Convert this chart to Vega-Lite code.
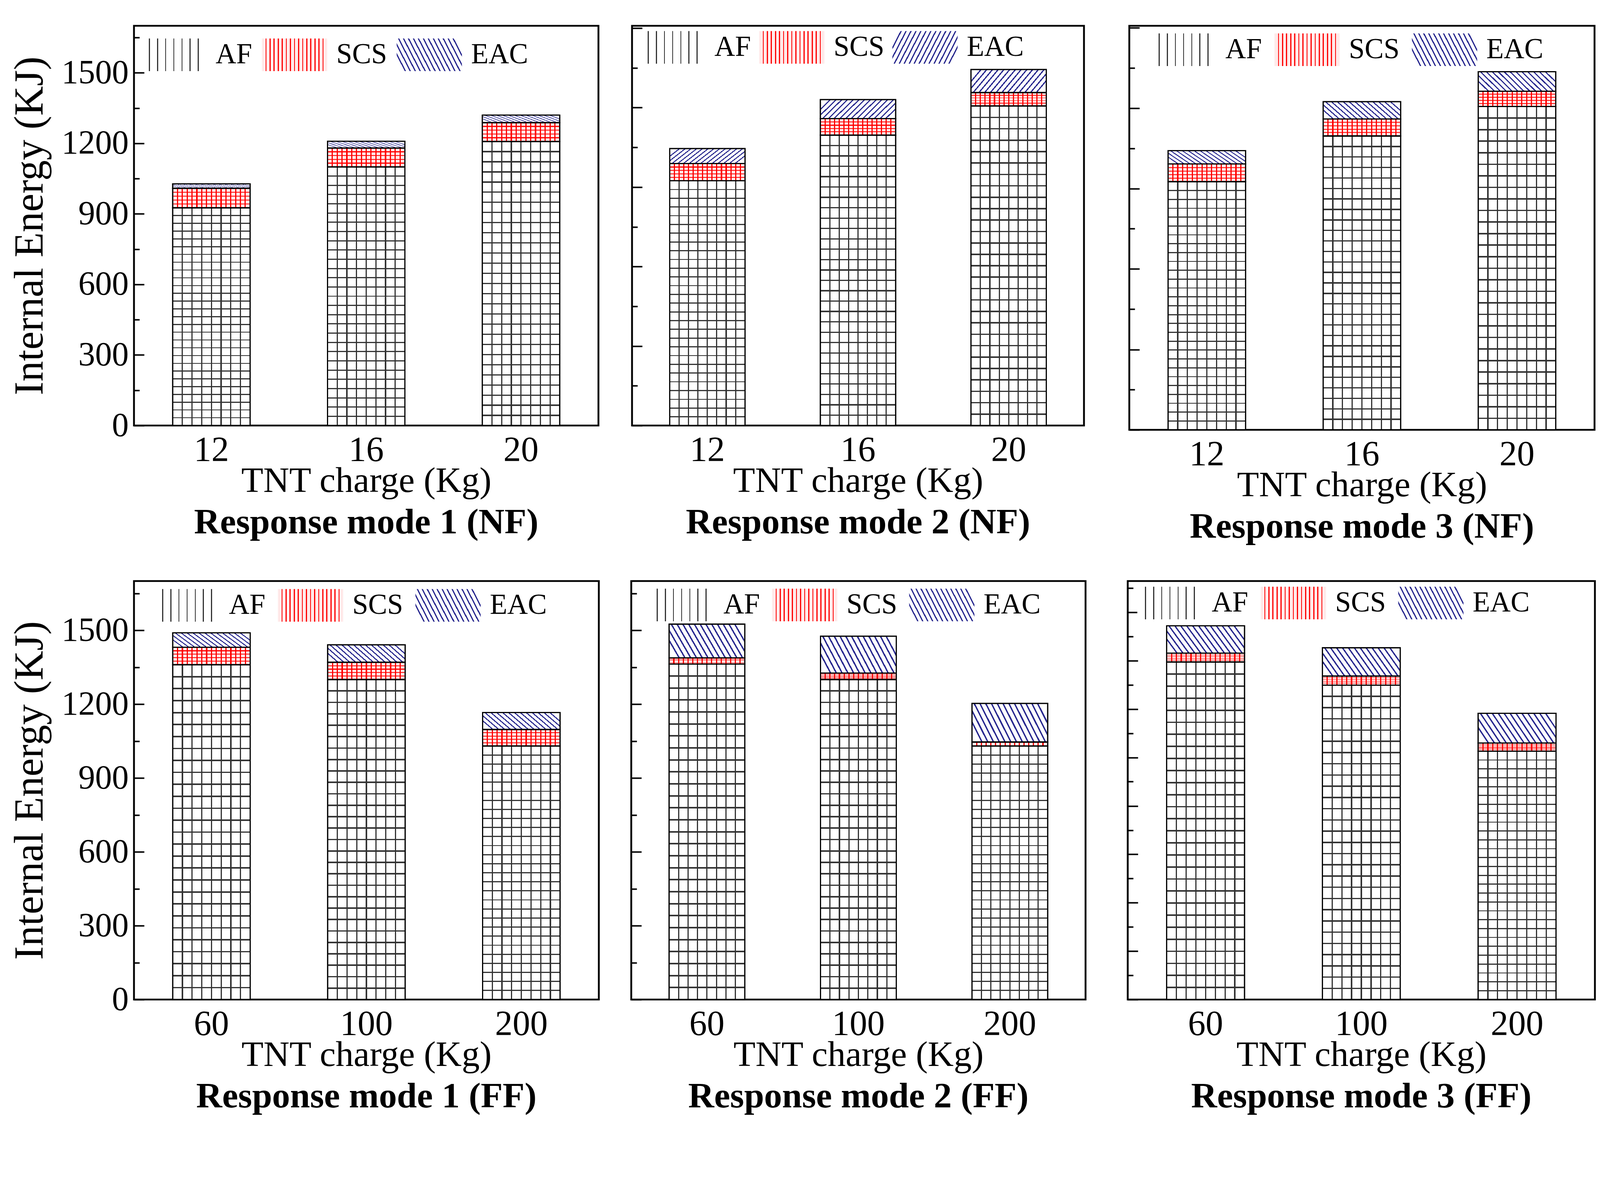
{
  "$schema": "https://vega.github.io/schema/vega-lite/v6.json",
  "background": "white",
  "padding": {"left": 21, "top": 33, "right": 0, "bottom": 0},
  "params": [
    {"name": "gAF", "value": {"gradient": "linear", "x1": 0, "y1": 0, "x2": 1, "y2": 0, "stops": [
      {"offset": 0, "color": "#fff"}, {"offset": 0.117, "color": "#fff"}, {"offset": 0.117, "color": "#333"}, {"offset": 0.133, "color": "#333"}, {"offset": 0.133, "color": "#fff"},
      {"offset": 0.242, "color": "#fff"}, {"offset": 0.242, "color": "#333"}, {"offset": 0.258, "color": "#333"}, {"offset": 0.258, "color": "#fff"},
      {"offset": 0.367, "color": "#fff"}, {"offset": 0.367, "color": "#333"}, {"offset": 0.383, "color": "#333"}, {"offset": 0.383, "color": "#fff"},
      {"offset": 0.492, "color": "#fff"}, {"offset": 0.492, "color": "#333"}, {"offset": 0.508, "color": "#333"}, {"offset": 0.508, "color": "#fff"},
      {"offset": 0.617, "color": "#fff"}, {"offset": 0.617, "color": "#333"}, {"offset": 0.633, "color": "#333"}, {"offset": 0.633, "color": "#fff"},
      {"offset": 0.742, "color": "#fff"}, {"offset": 0.742, "color": "#333"}, {"offset": 0.758, "color": "#333"}, {"offset": 0.758, "color": "#fff"},
      {"offset": 0.867, "color": "#fff"}, {"offset": 0.867, "color": "#333"}, {"offset": 0.883, "color": "#333"}, {"offset": 0.883, "color": "#fff"},
      {"offset": 1, "color": "#fff"}]}},
    {"name": "gSCS", "value": {"gradient": "linear", "x1": 0, "y1": 0, "x2": 1, "y2": 0, "stops": [
      {"offset": 0, "color": "#ffeaea"},
      {"offset": 0.0545, "color": "#ffeaea"}, {"offset": 0.0545, "color": "#f00"}, {"offset": 0.0705, "color": "#f00"}, {"offset": 0.0705, "color": "#ffeaea"},
      {"offset": 0.117, "color": "#ffeaea"}, {"offset": 0.117, "color": "#f00"}, {"offset": 0.133, "color": "#f00"}, {"offset": 0.133, "color": "#ffeaea"},
      {"offset": 0.1795, "color": "#ffeaea"}, {"offset": 0.1795, "color": "#f00"}, {"offset": 0.1955, "color": "#f00"}, {"offset": 0.1955, "color": "#ffeaea"},
      {"offset": 0.242, "color": "#ffeaea"}, {"offset": 0.242, "color": "#f00"}, {"offset": 0.258, "color": "#f00"}, {"offset": 0.258, "color": "#ffeaea"},
      {"offset": 0.3045, "color": "#ffeaea"}, {"offset": 0.3045, "color": "#f00"}, {"offset": 0.3205, "color": "#f00"}, {"offset": 0.3205, "color": "#ffeaea"},
      {"offset": 0.367, "color": "#ffeaea"}, {"offset": 0.367, "color": "#f00"}, {"offset": 0.383, "color": "#f00"}, {"offset": 0.383, "color": "#ffeaea"},
      {"offset": 0.4295, "color": "#ffeaea"}, {"offset": 0.4295, "color": "#f00"}, {"offset": 0.4455, "color": "#f00"}, {"offset": 0.4455, "color": "#ffeaea"},
      {"offset": 0.492, "color": "#ffeaea"}, {"offset": 0.492, "color": "#f00"}, {"offset": 0.508, "color": "#f00"}, {"offset": 0.508, "color": "#ffeaea"},
      {"offset": 0.5545, "color": "#ffeaea"}, {"offset": 0.5545, "color": "#f00"}, {"offset": 0.5705, "color": "#f00"}, {"offset": 0.5705, "color": "#ffeaea"},
      {"offset": 0.617, "color": "#ffeaea"}, {"offset": 0.617, "color": "#f00"}, {"offset": 0.633, "color": "#f00"}, {"offset": 0.633, "color": "#ffeaea"},
      {"offset": 0.6795, "color": "#ffeaea"}, {"offset": 0.6795, "color": "#f00"}, {"offset": 0.6955, "color": "#f00"}, {"offset": 0.6955, "color": "#ffeaea"},
      {"offset": 0.742, "color": "#ffeaea"}, {"offset": 0.742, "color": "#f00"}, {"offset": 0.758, "color": "#f00"}, {"offset": 0.758, "color": "#ffeaea"},
      {"offset": 0.8045, "color": "#ffeaea"}, {"offset": 0.8045, "color": "#f00"}, {"offset": 0.8205, "color": "#f00"}, {"offset": 0.8205, "color": "#ffeaea"},
      {"offset": 0.867, "color": "#ffeaea"}, {"offset": 0.867, "color": "#f00"}, {"offset": 0.883, "color": "#f00"}, {"offset": 0.883, "color": "#ffeaea"},
      {"offset": 0.9295, "color": "#ffeaea"}, {"offset": 0.9295, "color": "#f00"}, {"offset": 0.9455, "color": "#f00"}, {"offset": 0.9455, "color": "#ffeaea"},
      {"offset": 1, "color": "#ffeaea"}]}},
    {"name": "gEAC", "value": {"gradient": "linear", "x1": 0, "y1": 0.6285, "x2": 1, "y2": 0.3715, "stops": [
      {"offset": 0, "color": "#fff"},
      {"offset": 0.0257, "color": "#fff"}, {"offset": 0.0257, "color": "#2a2a90"}, {"offset": 0.0457, "color": "#2a2a90"}, {"offset": 0.0457, "color": "#fff"},
      {"offset": 0.0971, "color": "#fff"}, {"offset": 0.0971, "color": "#2a2a90"}, {"offset": 0.1171, "color": "#2a2a90"}, {"offset": 0.1171, "color": "#fff"},
      {"offset": 0.1686, "color": "#fff"}, {"offset": 0.1686, "color": "#2a2a90"}, {"offset": 0.1886, "color": "#2a2a90"}, {"offset": 0.1886, "color": "#fff"},
      {"offset": 0.24, "color": "#fff"}, {"offset": 0.24, "color": "#2a2a90"}, {"offset": 0.26, "color": "#2a2a90"}, {"offset": 0.26, "color": "#fff"},
      {"offset": 0.3114, "color": "#fff"}, {"offset": 0.3114, "color": "#2a2a90"}, {"offset": 0.3314, "color": "#2a2a90"}, {"offset": 0.3314, "color": "#fff"},
      {"offset": 0.3829, "color": "#fff"}, {"offset": 0.3829, "color": "#2a2a90"}, {"offset": 0.4029, "color": "#2a2a90"}, {"offset": 0.4029, "color": "#fff"},
      {"offset": 0.4543, "color": "#fff"}, {"offset": 0.4543, "color": "#2a2a90"}, {"offset": 0.4743, "color": "#2a2a90"}, {"offset": 0.4743, "color": "#fff"},
      {"offset": 0.5257, "color": "#fff"}, {"offset": 0.5257, "color": "#2a2a90"}, {"offset": 0.5457, "color": "#2a2a90"}, {"offset": 0.5457, "color": "#fff"},
      {"offset": 0.5971, "color": "#fff"}, {"offset": 0.5971, "color": "#2a2a90"}, {"offset": 0.6171, "color": "#2a2a90"}, {"offset": 0.6171, "color": "#fff"},
      {"offset": 0.6686, "color": "#fff"}, {"offset": 0.6686, "color": "#2a2a90"}, {"offset": 0.6886, "color": "#2a2a90"}, {"offset": 0.6886, "color": "#fff"},
      {"offset": 0.74, "color": "#fff"}, {"offset": 0.74, "color": "#2a2a90"}, {"offset": 0.76, "color": "#2a2a90"}, {"offset": 0.76, "color": "#fff"},
      {"offset": 0.8114, "color": "#fff"}, {"offset": 0.8114, "color": "#2a2a90"}, {"offset": 0.8314, "color": "#2a2a90"}, {"offset": 0.8314, "color": "#fff"},
      {"offset": 0.8829, "color": "#fff"}, {"offset": 0.8829, "color": "#2a2a90"}, {"offset": 0.9029, "color": "#2a2a90"}, {"offset": 0.9029, "color": "#fff"},
      {"offset": 0.9543, "color": "#fff"}, {"offset": 0.9543, "color": "#2a2a90"}, {"offset": 0.9743, "color": "#2a2a90"}, {"offset": 0.9743, "color": "#fff"},
      {"offset": 1, "color": "#fff"}]}},
    {"name": "gEAC2", "value": {"gradient": "linear", "x1": 0, "y1": 0.3715, "x2": 1, "y2": 0.6285, "stops": [
      {"offset": 0, "color": "#fff"},
      {"offset": 0.0257, "color": "#fff"}, {"offset": 0.0257, "color": "#2a2a90"}, {"offset": 0.0457, "color": "#2a2a90"}, {"offset": 0.0457, "color": "#fff"},
      {"offset": 0.0971, "color": "#fff"}, {"offset": 0.0971, "color": "#2a2a90"}, {"offset": 0.1171, "color": "#2a2a90"}, {"offset": 0.1171, "color": "#fff"},
      {"offset": 0.1686, "color": "#fff"}, {"offset": 0.1686, "color": "#2a2a90"}, {"offset": 0.1886, "color": "#2a2a90"}, {"offset": 0.1886, "color": "#fff"},
      {"offset": 0.24, "color": "#fff"}, {"offset": 0.24, "color": "#2a2a90"}, {"offset": 0.26, "color": "#2a2a90"}, {"offset": 0.26, "color": "#fff"},
      {"offset": 0.3114, "color": "#fff"}, {"offset": 0.3114, "color": "#2a2a90"}, {"offset": 0.3314, "color": "#2a2a90"}, {"offset": 0.3314, "color": "#fff"},
      {"offset": 0.3829, "color": "#fff"}, {"offset": 0.3829, "color": "#2a2a90"}, {"offset": 0.4029, "color": "#2a2a90"}, {"offset": 0.4029, "color": "#fff"},
      {"offset": 0.4543, "color": "#fff"}, {"offset": 0.4543, "color": "#2a2a90"}, {"offset": 0.4743, "color": "#2a2a90"}, {"offset": 0.4743, "color": "#fff"},
      {"offset": 0.5257, "color": "#fff"}, {"offset": 0.5257, "color": "#2a2a90"}, {"offset": 0.5457, "color": "#2a2a90"}, {"offset": 0.5457, "color": "#fff"},
      {"offset": 0.5971, "color": "#fff"}, {"offset": 0.5971, "color": "#2a2a90"}, {"offset": 0.6171, "color": "#2a2a90"}, {"offset": 0.6171, "color": "#fff"},
      {"offset": 0.6686, "color": "#fff"}, {"offset": 0.6686, "color": "#2a2a90"}, {"offset": 0.6886, "color": "#2a2a90"}, {"offset": 0.6886, "color": "#fff"},
      {"offset": 0.74, "color": "#fff"}, {"offset": 0.74, "color": "#2a2a90"}, {"offset": 0.76, "color": "#2a2a90"}, {"offset": 0.76, "color": "#fff"},
      {"offset": 0.8114, "color": "#fff"}, {"offset": 0.8114, "color": "#2a2a90"}, {"offset": 0.8314, "color": "#2a2a90"}, {"offset": 0.8314, "color": "#fff"},
      {"offset": 0.8829, "color": "#fff"}, {"offset": 0.8829, "color": "#2a2a90"}, {"offset": 0.9029, "color": "#2a2a90"}, {"offset": 0.9029, "color": "#fff"},
      {"offset": 0.9543, "color": "#fff"}, {"offset": 0.9543, "color": "#2a2a90"}, {"offset": 0.9743, "color": "#2a2a90"}, {"offset": 0.9743, "color": "#fff"},
      {"offset": 1, "color": "#fff"}]}},
    {"name": "gAFh", "value": {"gradient": "linear", "x1": 0, "y1": 0, "x2": 0, "y2": 1, "stops": [
      {"offset": 0, "color": "rgba(255,255,255,0)"},
      {"offset": 0.0335, "color": "rgba(255,255,255,0)"}, {"offset": 0.0335, "color": "#333"}, {"offset": 0.0379, "color": "#333"}, {"offset": 0.0379, "color": "rgba(255,255,255,0)"},
      {"offset": 0.0692, "color": "rgba(255,255,255,0)"}, {"offset": 0.0692, "color": "#333"}, {"offset": 0.0736, "color": "#333"}, {"offset": 0.0736, "color": "rgba(255,255,255,0)"},
      {"offset": 0.1049, "color": "rgba(255,255,255,0)"}, {"offset": 0.1049, "color": "#333"}, {"offset": 0.1093, "color": "#333"}, {"offset": 0.1093, "color": "rgba(255,255,255,0)"},
      {"offset": 0.1407, "color": "rgba(255,255,255,0)"}, {"offset": 0.1407, "color": "#333"}, {"offset": 0.1451, "color": "#333"}, {"offset": 0.1451, "color": "rgba(255,255,255,0)"},
      {"offset": 0.1764, "color": "rgba(255,255,255,0)"}, {"offset": 0.1764, "color": "#333"}, {"offset": 0.1808, "color": "#333"}, {"offset": 0.1808, "color": "rgba(255,255,255,0)"},
      {"offset": 0.2121, "color": "rgba(255,255,255,0)"}, {"offset": 0.2121, "color": "#333"}, {"offset": 0.2165, "color": "#333"}, {"offset": 0.2165, "color": "rgba(255,255,255,0)"},
      {"offset": 0.2478, "color": "rgba(255,255,255,0)"}, {"offset": 0.2478, "color": "#333"}, {"offset": 0.2522, "color": "#333"}, {"offset": 0.2522, "color": "rgba(255,255,255,0)"},
      {"offset": 0.2835, "color": "rgba(255,255,255,0)"}, {"offset": 0.2835, "color": "#333"}, {"offset": 0.2879, "color": "#333"}, {"offset": 0.2879, "color": "rgba(255,255,255,0)"},
      {"offset": 0.3192, "color": "rgba(255,255,255,0)"}, {"offset": 0.3192, "color": "#333"}, {"offset": 0.3236, "color": "#333"}, {"offset": 0.3236, "color": "rgba(255,255,255,0)"},
      {"offset": 0.3549, "color": "rgba(255,255,255,0)"}, {"offset": 0.3549, "color": "#333"}, {"offset": 0.3593, "color": "#333"}, {"offset": 0.3593, "color": "rgba(255,255,255,0)"},
      {"offset": 0.3907, "color": "rgba(255,255,255,0)"}, {"offset": 0.3907, "color": "#333"}, {"offset": 0.3951, "color": "#333"}, {"offset": 0.3951, "color": "rgba(255,255,255,0)"},
      {"offset": 0.4264, "color": "rgba(255,255,255,0)"}, {"offset": 0.4264, "color": "#333"}, {"offset": 0.4308, "color": "#333"}, {"offset": 0.4308, "color": "rgba(255,255,255,0)"},
      {"offset": 0.4621, "color": "rgba(255,255,255,0)"}, {"offset": 0.4621, "color": "#333"}, {"offset": 0.4665, "color": "#333"}, {"offset": 0.4665, "color": "rgba(255,255,255,0)"},
      {"offset": 0.4978, "color": "rgba(255,255,255,0)"}, {"offset": 0.4978, "color": "#333"}, {"offset": 0.5022, "color": "#333"}, {"offset": 0.5022, "color": "rgba(255,255,255,0)"},
      {"offset": 0.5335, "color": "rgba(255,255,255,0)"}, {"offset": 0.5335, "color": "#333"}, {"offset": 0.5379, "color": "#333"}, {"offset": 0.5379, "color": "rgba(255,255,255,0)"},
      {"offset": 0.5692, "color": "rgba(255,255,255,0)"}, {"offset": 0.5692, "color": "#333"}, {"offset": 0.5736, "color": "#333"}, {"offset": 0.5736, "color": "rgba(255,255,255,0)"},
      {"offset": 0.6049, "color": "rgba(255,255,255,0)"}, {"offset": 0.6049, "color": "#333"}, {"offset": 0.6093, "color": "#333"}, {"offset": 0.6093, "color": "rgba(255,255,255,0)"},
      {"offset": 0.6407, "color": "rgba(255,255,255,0)"}, {"offset": 0.6407, "color": "#333"}, {"offset": 0.6451, "color": "#333"}, {"offset": 0.6451, "color": "rgba(255,255,255,0)"},
      {"offset": 0.6764, "color": "rgba(255,255,255,0)"}, {"offset": 0.6764, "color": "#333"}, {"offset": 0.6808, "color": "#333"}, {"offset": 0.6808, "color": "rgba(255,255,255,0)"},
      {"offset": 0.7121, "color": "rgba(255,255,255,0)"}, {"offset": 0.7121, "color": "#333"}, {"offset": 0.7165, "color": "#333"}, {"offset": 0.7165, "color": "rgba(255,255,255,0)"},
      {"offset": 0.7478, "color": "rgba(255,255,255,0)"}, {"offset": 0.7478, "color": "#333"}, {"offset": 0.7522, "color": "#333"}, {"offset": 0.7522, "color": "rgba(255,255,255,0)"},
      {"offset": 0.7835, "color": "rgba(255,255,255,0)"}, {"offset": 0.7835, "color": "#333"}, {"offset": 0.7879, "color": "#333"}, {"offset": 0.7879, "color": "rgba(255,255,255,0)"},
      {"offset": 0.8192, "color": "rgba(255,255,255,0)"}, {"offset": 0.8192, "color": "#333"}, {"offset": 0.8236, "color": "#333"}, {"offset": 0.8236, "color": "rgba(255,255,255,0)"},
      {"offset": 0.8549, "color": "rgba(255,255,255,0)"}, {"offset": 0.8549, "color": "#333"}, {"offset": 0.8593, "color": "#333"}, {"offset": 0.8593, "color": "rgba(255,255,255,0)"},
      {"offset": 0.8907, "color": "rgba(255,255,255,0)"}, {"offset": 0.8907, "color": "#333"}, {"offset": 0.8951, "color": "#333"}, {"offset": 0.8951, "color": "rgba(255,255,255,0)"},
      {"offset": 0.9264, "color": "rgba(255,255,255,0)"}, {"offset": 0.9264, "color": "#333"}, {"offset": 0.9308, "color": "#333"}, {"offset": 0.9308, "color": "rgba(255,255,255,0)"},
      {"offset": 0.9621, "color": "rgba(255,255,255,0)"}, {"offset": 0.9621, "color": "#333"}, {"offset": 0.9665, "color": "#333"}, {"offset": 0.9665, "color": "rgba(255,255,255,0)"},
      {"offset": 1, "color": "rgba(255,255,255,0)"}]}},
    {"name": "gSCSh", "value": {"gradient": "linear", "x1": 0, "y1": 0, "x2": 0, "y2": 1, "stops": [
      {"offset": 0, "color": "rgba(255,255,255,0)"},
      {"offset": 0.175, "color": "rgba(255,255,255,0)"}, {"offset": 0.175, "color": "#f00"}, {"offset": 0.225, "color": "#f00"}, {"offset": 0.225, "color": "rgba(255,255,255,0)"},
      {"offset": 0.375, "color": "rgba(255,255,255,0)"}, {"offset": 0.375, "color": "#f00"}, {"offset": 0.425, "color": "#f00"}, {"offset": 0.425, "color": "rgba(255,255,255,0)"},
      {"offset": 0.575, "color": "rgba(255,255,255,0)"}, {"offset": 0.575, "color": "#f00"}, {"offset": 0.625, "color": "#f00"}, {"offset": 0.625, "color": "rgba(255,255,255,0)"},
      {"offset": 0.775, "color": "rgba(255,255,255,0)"}, {"offset": 0.775, "color": "#f00"}, {"offset": 0.825, "color": "#f00"}, {"offset": 0.825, "color": "rgba(255,255,255,0)"},
      {"offset": 1, "color": "rgba(255,255,255,0)"}]}}
  ],
  "data": {"values": [
    {"panel": "NF1", "charge": 12, "comp": "AF", "energy": 926},
    {"panel": "NF1", "charge": 12, "comp": "SCS", "energy": 83},
    {"panel": "NF1", "charge": 12, "comp": "EAC", "energy": 19},
    {"panel": "NF1", "charge": 16, "comp": "AF", "energy": 1100},
    {"panel": "NF1", "charge": 16, "comp": "SCS", "energy": 80},
    {"panel": "NF1", "charge": 16, "comp": "EAC", "energy": 29},
    {"panel": "NF1", "charge": 20, "comp": "AF", "energy": 1208},
    {"panel": "NF1", "charge": 20, "comp": "SCS", "energy": 80},
    {"panel": "NF1", "charge": 20, "comp": "EAC", "energy": 32},
    {"panel": "NF2", "charge": 12, "comp": "AF", "energy": 1041},
    {"panel": "NF2", "charge": 12, "comp": "SCS", "energy": 73},
    {"panel": "NF2", "charge": 12, "comp": "EAC", "energy": 64},
    {"panel": "NF2", "charge": 16, "comp": "AF", "energy": 1235},
    {"panel": "NF2", "charge": 16, "comp": "SCS", "energy": 70},
    {"panel": "NF2", "charge": 16, "comp": "EAC", "energy": 81},
    {"panel": "NF2", "charge": 20, "comp": "AF", "energy": 1359},
    {"panel": "NF2", "charge": 20, "comp": "SCS", "energy": 57},
    {"panel": "NF2", "charge": 20, "comp": "EAC", "energy": 98},
    {"panel": "NF3", "charge": 12, "comp": "AF", "energy": 1054},
    {"panel": "NF3", "charge": 12, "comp": "SCS", "energy": 75},
    {"panel": "NF3", "charge": 12, "comp": "EAC", "energy": 57},
    {"panel": "NF3", "charge": 16, "comp": "AF", "energy": 1248},
    {"panel": "NF3", "charge": 16, "comp": "SCS", "energy": 72},
    {"panel": "NF3", "charge": 16, "comp": "EAC", "energy": 74},
    {"panel": "NF3", "charge": 20, "comp": "AF", "energy": 1373},
    {"panel": "NF3", "charge": 20, "comp": "SCS", "energy": 65},
    {"panel": "NF3", "charge": 20, "comp": "EAC", "energy": 83},
    {"panel": "FF1", "charge": 60, "comp": "AF", "energy": 1360},
    {"panel": "FF1", "charge": 60, "comp": "SCS", "energy": 71},
    {"panel": "FF1", "charge": 60, "comp": "EAC", "energy": 59},
    {"panel": "FF1", "charge": 100, "comp": "AF", "energy": 1300},
    {"panel": "FF1", "charge": 100, "comp": "SCS", "energy": 70},
    {"panel": "FF1", "charge": 100, "comp": "EAC", "energy": 71},
    {"panel": "FF1", "charge": 200, "comp": "AF", "energy": 1030},
    {"panel": "FF1", "charge": 200, "comp": "SCS", "energy": 67},
    {"panel": "FF1", "charge": 200, "comp": "EAC", "energy": 69},
    {"panel": "FF2", "charge": 60, "comp": "AF", "energy": 1363},
    {"panel": "FF2", "charge": 60, "comp": "SCS", "energy": 25},
    {"panel": "FF2", "charge": 60, "comp": "EAC", "energy": 137},
    {"panel": "FF2", "charge": 100, "comp": "AF", "energy": 1300},
    {"panel": "FF2", "charge": 100, "comp": "SCS", "energy": 26},
    {"panel": "FF2", "charge": 100, "comp": "EAC", "energy": 150},
    {"panel": "FF2", "charge": 200, "comp": "AF", "energy": 1030},
    {"panel": "FF2", "charge": 200, "comp": "SCS", "energy": 16},
    {"panel": "FF2", "charge": 200, "comp": "EAC", "energy": 157},
    {"panel": "FF3", "charge": 60, "comp": "AF", "energy": 1371},
    {"panel": "FF3", "charge": 60, "comp": "SCS", "energy": 36},
    {"panel": "FF3", "charge": 60, "comp": "EAC", "energy": 111},
    {"panel": "FF3", "charge": 100, "comp": "AF", "energy": 1277},
    {"panel": "FF3", "charge": 100, "comp": "SCS", "energy": 37},
    {"panel": "FF3", "charge": 100, "comp": "EAC", "energy": 115},
    {"panel": "FF3", "charge": 200, "comp": "AF", "energy": 1009},
    {"panel": "FF3", "charge": 200, "comp": "SCS", "energy": 33},
    {"panel": "FF3", "charge": 200, "comp": "EAC", "energy": 121}
  ]},
  "transform": [
    {"calculate": "indexof(['AF','SCS','EAC'], datum.comp)", "as": "rank"},
    {"stack": "energy", "groupby": ["panel", "charge"], "sort": [{"field": "rank", "order": "ascending"}], "as": ["v0", "v1"]}
  ],
  "spacing": 58,
  "resolve": {"scale": {"x": "independent", "y": "independent", "opacity": "independent"}, "legend": {"opacity": "independent"}},
  "vconcat": [
    {
      "spacing": 108,
      "resolve": {"scale": {"x": "independent", "y": "independent", "opacity": "independent"}, "legend": {"opacity": "independent"}},
      "hconcat": [
        {
          "spacing": 78,
          "resolve": {"scale": {"x": "independent", "y": "independent", "opacity": "independent"}, "legend": {"opacity": "independent"}},
          "hconcat": [
            {
              "width": 1189, "height": 1023,
              "title": "Response mode 1 (NF)",
              "transform": [{"filter": "datum.panel === 'NF1'"}],
              "encoding": {
                "x": {"field": "charge", "type": "ordinal", "scale": {"paddingInner": 0.5, "paddingOuter": 0.25}, "axis": {"title": "TNT charge (Kg)"}},
                "y": {"field": "v0", "type": "quantitative", "scale": {"domain": [0, 1700], "nice": false},
                      "axis": {"title": "Internal Energy (KJ)", "values": [0,150,300,450,600,750,900,1050,1200,1350,1500,1650], "format": "d",
                               "labelExpr": "datum.value % 300 === 0 ? datum.label : ''",
                               "tickSize": {"condition": {"test": "datum.value % 300 === 0", "value": -26}, "value": -14}}},
                "y2": {"field": "v1"}
              },
              "layer": [
                {"mark": {"type": "bar", "fill": {"expr": "(datum.comp || datum.value) === 'AF' ? gAF : (datum.comp || datum.value) === 'SCS' ? gSCS : gEAC"}},
                 "encoding": {"opacity": {"field": "comp", "type": "ordinal", "scale": {"domain": ["AF", "SCS", "EAC"], "range": [1, 1, 1]},
                   "legend": {"title": null, "legendX": 17, "legendY": -11, "columnPadding": 18}}}},
                {"mark": {"type": "bar", "fill": {"expr": "datum.comp === 'AF' ? gAFh : datum.comp === 'SCS' ? gSCSh : 'transparent'"}}}
              ]
            },
            {
              "width": 1157, "height": 1023,
              "title": "Response mode 2 (NF)",
              "transform": [{"filter": "datum.panel === 'NF2'"}],
              "encoding": {
                "x": {"field": "charge", "type": "ordinal", "scale": {"paddingInner": 0.5, "paddingOuter": 0.25}, "axis": {"title": "TNT charge (Kg)"}},
                "y": {"field": "v0", "type": "quantitative", "scale": {"domain": [0, 1700], "nice": false},
                      "axis": {"title": null, "labels": false, "values": [0,169,338,507,676,845,1014,1183,1352,1521,1690],
                               "tickSize": {"condition": {"test": "indexof([0,338,676,1014,1352,1690], datum.value) >= 0", "value": -26}, "value": -14}}},
                "y2": {"field": "v1"}
              },
              "layer": [
                {"mark": {"type": "bar", "fill": {"expr": "(datum.comp || datum.value) === 'AF' ? gAF : (datum.comp || datum.value) === 'SCS' ? gSCS : gEAC2"}},
                 "encoding": {"opacity": {"field": "comp", "type": "ordinal", "scale": {"domain": ["AF", "SCS", "EAC"], "range": [1, 1, 1]},
                   "legend": {"title": null, "legendX": 19, "legendY": -30, "columnPadding": 14}}}},
                {"mark": {"type": "bar", "fill": {"expr": "datum.comp === 'AF' ? gAFh : datum.comp === 'SCS' ? gSCSh : 'transparent'"}}}
              ]
            }
          ]
        },
        {
          "width": 1191, "height": 1034,
          "title": "Response mode 3 (NF)",
          "transform": [{"filter": "datum.panel === 'NF3'"}],
          "encoding": {
            "x": {"field": "charge", "type": "ordinal", "scale": {"paddingInner": 0.5, "paddingOuter": 0.25}, "axis": {"title": "TNT charge (Kg)"}},
            "y": {"field": "v0", "type": "quantitative", "scale": {"domain": [0, 1716], "nice": false},
                  "axis": {"title": null, "labels": false, "values": [0,171,341,512,683,854,1024,1195,1366,1536,1707],
                           "tickSize": {"condition": {"test": "indexof([0,341,683,1024,1366,1707], datum.value) >= 0", "value": -26}, "value": -14}}},
            "y2": {"field": "v1"}
          },
          "layer": [
            {"mark": {"type": "bar", "fill": {"expr": "(datum.comp || datum.value) === 'AF' ? gAF : (datum.comp || datum.value) === 'SCS' ? gSCS : gEAC"}},
             "encoding": {"opacity": {"field": "comp", "type": "ordinal", "scale": {"domain": ["AF", "SCS", "EAC"], "range": [1, 1, 1]},
               "legend": {"title": null, "legendX": 54, "legendY": -24, "columnPadding": 25}}}},
            {"mark": {"type": "bar", "fill": {"expr": "datum.comp === 'AF' ? gAFh : datum.comp === 'SCS' ? gSCSh : 'transparent'"}}}
          ]
        }
      ]
    },
    {
      "spacing": 100,
      "resolve": {"scale": {"x": "independent", "y": "independent", "opacity": "independent"}, "legend": {"opacity": "independent"}},
      "hconcat": [
        {
          "spacing": 75,
          "resolve": {"scale": {"x": "independent", "y": "independent", "opacity": "independent"}, "legend": {"opacity": "independent"}},
          "hconcat": [
            {
              "width": 1190, "height": 1071,
              "title": "Response mode 1 (FF)",
              "transform": [{"filter": "datum.panel === 'FF1'"}],
              "encoding": {
                "x": {"field": "charge", "type": "ordinal", "scale": {"paddingInner": 0.5, "paddingOuter": 0.25}, "axis": {"title": "TNT charge (Kg)"}},
                "y": {"field": "v0", "type": "quantitative", "scale": {"domain": [0, 1700], "nice": false},
                      "axis": {"title": "Internal Energy (KJ)", "values": [0,150,300,450,600,750,900,1050,1200,1350,1500,1650], "format": "d",
                               "labelExpr": "datum.value % 300 === 0 ? datum.label : ''",
                               "tickSize": {"condition": {"test": "datum.value % 300 === 0", "value": -26}, "value": -14}}},
                "y2": {"field": "v1"}
              },
              "layer": [
                {"mark": {"type": "bar", "fill": {"expr": "(datum.comp || datum.value) === 'AF' ? gAF : (datum.comp || datum.value) === 'SCS' ? gSCS : gEAC"}},
                 "encoding": {"opacity": {"field": "comp", "type": "ordinal", "scale": {"domain": ["AF", "SCS", "EAC"], "range": [1, 1, 1]},
                   "legend": {"title": null, "legendX": 51, "legendY": -23, "columnPadding": 25}}}},
                {"mark": {"type": "bar", "fill": {"expr": "datum.comp === 'AF' ? gAFh : datum.comp === 'SCS' ? gSCSh : 'transparent'"}}}
              ]
            },
            {
              "width": 1163, "height": 1071,
              "title": "Response mode 2 (FF)",
              "transform": [{"filter": "datum.panel === 'FF2'"}],
              "encoding": {
                "x": {"field": "charge", "type": "ordinal", "scale": {"paddingInner": 0.5, "paddingOuter": 0.25}, "axis": {"title": "TNT charge (Kg)"}},
                "y": {"field": "v0", "type": "quantitative", "scale": {"domain": [0, 1700], "nice": false},
                      "axis": {"title": null, "labels": false, "values": [0,150,300,450,600,750,900,1050,1200,1350,1500,1650],
                               "tickSize": {"condition": {"test": "datum.value % 300 === 0", "value": -26}, "value": -14}}},
                "y2": {"field": "v1"}
              },
              "layer": [
                {"mark": {"type": "bar", "fill": {"expr": "(datum.comp || datum.value) === 'AF' ? gAF : (datum.comp || datum.value) === 'SCS' ? gSCS : gEAC"}},
                 "encoding": {"opacity": {"field": "comp", "type": "ordinal", "scale": {"domain": ["AF", "SCS", "EAC"], "range": [1, 1, 1]},
                   "legend": {"title": null, "legendX": 44, "legendY": -24, "columnPadding": 24}}}},
                {"mark": {"type": "bar", "fill": {"expr": "datum.comp === 'AF' ? gAFh : datum.comp === 'SCS' ? gSCSh : 'transparent'"}}}
              ]
            }
          ]
        },
        {
          "width": 1196, "height": 1071,
          "title": "Response mode 3 (FF)",
          "transform": [{"filter": "datum.panel === 'FF3'"}],
          "encoding": {
            "x": {"field": "charge", "type": "ordinal", "scale": {"paddingInner": 0.5, "paddingOuter": 0.25}, "axis": {"title": "TNT charge (Kg)"}},
            "y": {"field": "v0", "type": "quantitative", "scale": {"domain": [0, 1700], "nice": false},
                  "axis": {"title": null, "labels": false, "values": [0,98,197,295,393,492,590,688,786,885,983,1081,1180,1278,1376,1475,1573,1671],
                           "tickSize": {"condition": {"test": "indexof([0,197,393,590,786,983,1180,1376,1573], datum.value) >= 0", "value": -26}, "value": -14}}},
            "y2": {"field": "v1"}
          },
          "layer": [
            {"mark": {"type": "bar", "fill": {"expr": "(datum.comp || datum.value) === 'AF' ? gAF : (datum.comp || datum.value) === 'SCS' ? gSCS : gEAC"}},
             "encoding": {"opacity": {"field": "comp", "type": "ordinal", "scale": {"domain": ["AF", "SCS", "EAC"], "range": [1, 1, 1]},
               "legend": {"title": null, "legendX": 23, "legendY": -29, "columnPadding": 25}}}},
            {"mark": {"type": "bar", "fill": {"expr": "datum.comp === 'AF' ? gAFh : datum.comp === 'SCS' ? gSCSh : 'transparent'"}}}
          ]
        }
      ]
    }
  ],
  "config": {
    "font": "Liberation Serif",
    "view": {"stroke": "black", "strokeWidth": 4.7},
    "bar": {"stroke": "black", "strokeWidth": 2.8},
    "axis": {"domain": false, "grid": false, "tickColor": "black", "tickWidth": 3.8, "labelColor": "black", "titleColor": "black",
             "labelFont": "Liberation Serif", "titleFont": "Liberation Serif", "titleFontWeight": "normal", "labelOverlap": false, "labelLimit": 0},
    "axisX": {"labelFontSize": 90, "titleFontSize": 92, "labelPadding": 34, "titlePadding": -12, "tickSize": -15, "labelAngle": 0},
    "axisY": {"labelFontSize": 86, "titleFontSize": 105, "labelPadding": 40, "titlePadding": 27},
    "legend": {"orient": "none", "direction": "horizontal", "symbolType": "M-1,-0.5H1V0.5H-1Z", "symbolSize": 27889,
               "symbolStrokeColor": "black", "symbolStrokeWidth": 2.8, "labelFont": "Liberation Serif", "labelFontSize": 73,
               "labelColor": "black", "labelOffset": 22, "padding": 0, "labelLimit": 0, "symbolOpacity": 1},
    "title": {"font": "Liberation Serif", "fontSize": 92, "fontWeight": "bold", "orient": "bottom", "anchor": "middle", "offset": 16, "color": "black"}
  }
}
